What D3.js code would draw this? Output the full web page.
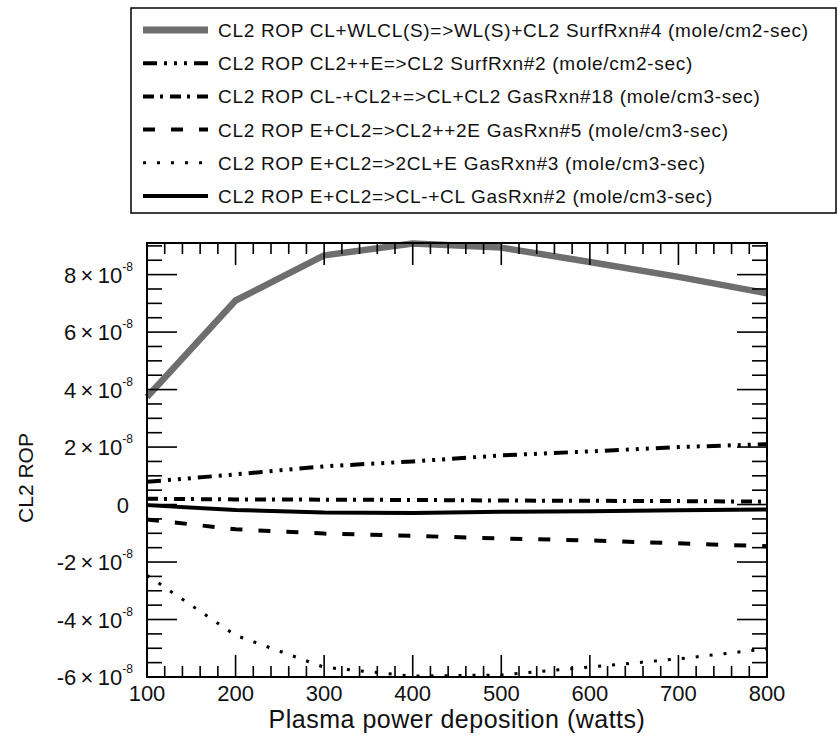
<!DOCTYPE html>
<html><head><meta charset="utf-8">
<script src="https://cdn.jsdelivr.net/npm/d3@7"></script>
<style>body{margin:0;background:#fff;} svg{display:block;} text{font-family:"Liberation Sans",Arial,Helvetica,sans-serif;fill:#111;}</style>
</head><body>
<svg id="chart" width="838" height="740"></svg>
<script>
// ---- data (values in units of 1e-8) ----
const powers = [100, 200, 300, 400, 500, 600, 700, 800];
const surfRxn4 = [3.74, 7.10, 8.67, 9.08, 8.94, 8.44, 7.92, 7.35];
const surfRxn2 = [0.79, 1.05, 1.33, 1.50, 1.71, 1.85, 2.00, 2.10];
const gasRxn18 = [0.20, 0.18, 0.17, 0.16, 0.14, 0.13, 0.12, 0.10];
const gasRxn5  = [-0.52, -0.86, -1.01, -1.09, -1.18, -1.25, -1.35, -1.45];
const gasRxn3  = [-2.46, -4.55, -5.66, -5.97, -5.93, -5.65, -5.37, -5.02];
const gasRxn2  = [-0.02, -0.19, -0.28, -0.29, -0.25, -0.23, -0.20, -0.17];
const seriesNames = [
  "CL2 ROP CL+WLCL(S)=>WL(S)+CL2 SurfRxn#4 (mole/cm2-sec)",
  "CL2 ROP CL2++E=>CL2 SurfRxn#2 (mole/cm2-sec)",
  "CL2 ROP CL-+CL2+=>CL+CL2 GasRxn#18 (mole/cm3-sec)",
  "CL2 ROP E+CL2=>CL2++2E GasRxn#5 (mole/cm3-sec)",
  "CL2 ROP E+CL2=>2CL+E GasRxn#3 (mole/cm3-sec)",
  "CL2 ROP E+CL2=>CL-+CL GasRxn#2 (mole/cm3-sec)"
];
const xTicks = [100, 200, 300, 400, 500, 600, 700, 800];
const yTickMantissas = [-6, -4, -2, 0, 2, 4, 6, 8];
const yExponent = -8;
const xTitle = "Plasma power deposition (watts)";
const yTitle = "CL2 ROP";

const seriesValues = [surfRxn4, surfRxn2, gasRxn18, gasRxn5, gasRxn3, gasRxn2];
const styles = [
  {color:"#6e6e6e", width:6.5, dash:null},
  {color:"#000", width:4, dash:"14,7,3,7,3,7,3,7"},
  {color:"#000", width:4, dash:"11,6,3,7"},
  {color:"#000", width:4, dash:"12,16"},
  {color:"#000", width:3, dash:"3,11"},
  {color:"#000", width:4, dash:null}
];

const svg = d3.select("#chart");
const L = 147, R = 767, T = 243, B = 677;
const x = d3.scaleLinear().domain([100, 800]).range([L, R]);
const y = d3.scaleLinear().domain([-6e-8, 9.1e-8]).range([B, T]);

// ---- lines ----
const line = d3.line().x(d => x(d[0])).y(d => y(d[1] * 1e-8));
seriesValues.forEach((vals, i) => {
  const st = styles[i];
  svg.append("path")
    .datum(powers.map((p, j) => [p, vals[j]]))
    .attr("d", line)
    .attr("fill", "none")
    .attr("stroke", st.color)
    .attr("stroke-width", st.width)
    .attr("stroke-dasharray", st.dash)
    .attr("stroke-linejoin", "round");
});

// ---- axes frame ----
const g = svg.append("g");
const minorX = d3.range(100, 801, 20);
const minorY = d3.range(-6, 9.01, 0.5).map(v => v * 1e-8);
minorX.forEach(v => {
  const major = Math.abs(v % 100) < 1e-6;
  const len = major ? 22 : 11;
  g.append("line").attr("x1", x(v)).attr("x2", x(v)).attr("y1", B).attr("y2", B - len)
    .attr("stroke", "#000").attr("stroke-width", 1.6);
  g.append("line").attr("x1", x(v)).attr("x2", x(v)).attr("y1", T).attr("y2", T + len)
    .attr("stroke", "#000").attr("stroke-width", 1.6);
});
minorY.forEach(v => {
  const m = v * 1e8;
  const major = Math.abs(m - Math.round(m / 2) * 2) < 1e-6;
  const len = major ? 30 : 15;
  g.append("line").attr("x1", L).attr("x2", L + len).attr("y1", y(v)).attr("y2", y(v))
    .attr("stroke", "#000").attr("stroke-width", 1.6);
  g.append("line").attr("x1", R).attr("x2", R - len).attr("y1", y(v)).attr("y2", y(v))
    .attr("stroke", "#000").attr("stroke-width", 1.6);
});
g.append("rect").attr("x", L).attr("y", T).attr("width", R - L).attr("height", B - T)
  .attr("fill", "none").attr("stroke", "#000").attr("stroke-width", 2);

// x tick labels
xTicks.forEach(v => {
  svg.append("text").attr("x", x(v)).attr("y", 701).attr("text-anchor", "middle")
    .attr("font-size", 22).text(v);
});
// y tick labels
yTickMantissas.forEach(m => {
  const t = svg.append("text").attr("x", 133).attr("y", y(m * 1e-8) + 8)
    .attr("text-anchor", "end").attr("font-size", 22);
  if (m === 0) { t.attr("x", 129).text("0"); return; }
  t.append("tspan").text(m + "\u2009\u00d7\u200910");
  t.append("tspan").attr("font-size", 12).attr("dy", -12).text(String(yExponent));
});

// axis titles
svg.append("text").attr("x", (L + R) / 2).attr("y", 728).attr("text-anchor", "middle")
  .attr("font-size", 25).attr("letter-spacing", 0.5).text(xTitle);
svg.append("text").attr("transform", "translate(33,478) rotate(-90)")
  .attr("text-anchor", "middle").attr("font-size", 21).text(yTitle);

// ---- legend ----
const lg = svg.append("g");
lg.append("rect").attr("x", 131).attr("y", 8).attr("width", 705).attr("height", 205)
  .attr("fill", "#fff").attr("stroke", "#000").attr("stroke-width", 1.5);
seriesNames.forEach((name, i) => {
  const yy = 30 + i * 33.2;
  const st = styles[i];
  lg.append("line").attr("x1", 143).attr("x2", 208).attr("y1", yy).attr("y2", yy)
    .attr("stroke", st.color).attr("stroke-width", i === 0 ? 7 : st.width).attr("stroke-dasharray", st.dash);
  lg.append("text").attr("x", 218).attr("y", yy + 7).attr("font-size", 19)
    .attr("letter-spacing", 0.7).text(name);
});
</script>
</body></html>
